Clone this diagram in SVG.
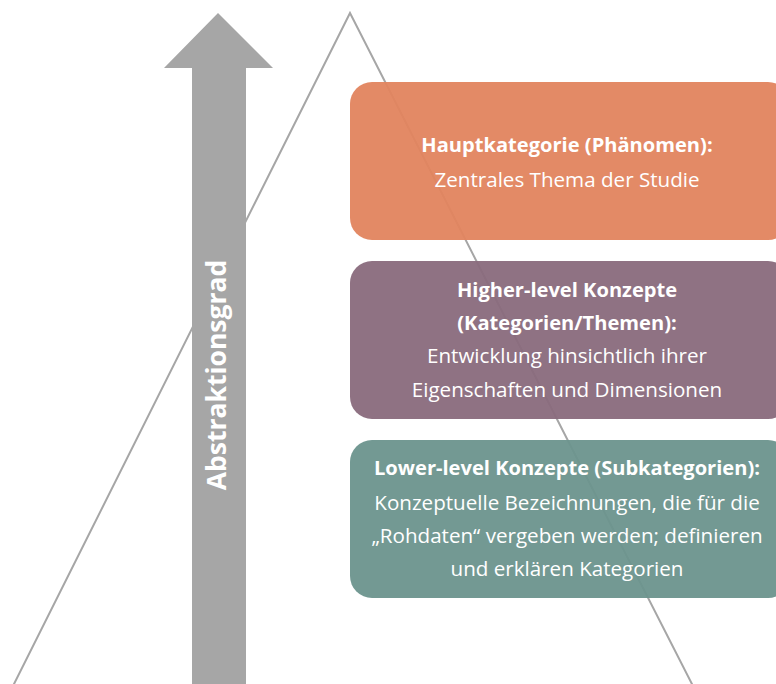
<svg xmlns="http://www.w3.org/2000/svg" width="776" height="684" viewBox="0 0 776 684">
<style>
.box{fill-opacity:0.95}
.t{font-family:"Open Sans","Liberation Sans",sans-serif;fill:#FFFFFF;text-anchor:middle;font-size:20.6px}
.b{font-weight:bold;font-size:20.1px}
.v{font-size:26.5px}
.line{fill:none;stroke:#A6A6A6;stroke-width:2}
</style>
<rect width="776" height="684" fill="#FFFFFF"/>
<g id="connectors">
<polyline class="line" points="12,688 350,13 694,688"/>
</g>
<g id="arrow">
<polygon points="218,13 273,68 246,68 246,684 192,684 192,68 164,68" fill="#A6A6A6"/>
<text class="t b v" transform="translate(226,375) rotate(-90)">Abstraktionsgrad</text>
</g>
<g id="hauptkategorie">
<rect class="box" x="350" y="82" width="440" height="158" rx="22" fill="#E2845E"/>
<text class="t b" x="567" y="152">Hauptkategorie (Phänomen):</text>
<text class="t" x="567" y="187">Zentrales Thema der Studie</text>
</g>
<g id="higher">
<rect class="box" x="350" y="261" width="440" height="158" rx="22" fill="#896A7C"/>
<text class="t b" x="567" y="297">Higher-level Konzepte</text>
<text class="t b" x="567" y="330">(Kategorien/Themen):</text>
<text class="t" x="567" y="363">Entwicklung hinsichtlich ihrer</text>
<text class="t" x="567" y="397">Eigenschaften und Dimensionen</text>
</g>
<g id="lower">
<rect class="box" x="350" y="440" width="440" height="158" rx="22" fill="#6C938D"/>
<text class="t b" x="567" y="475">Lower-level Konzepte (Subkategorien):</text>
<text class="t" x="567" y="510">Konzeptuelle Bezeichnungen, die für die</text>
<text class="t" x="567" y="543">„Rohdaten“ vergeben werden; definieren</text>
<text class="t" x="567" y="576">und erklären Kategorien</text>
</g>
</svg>
